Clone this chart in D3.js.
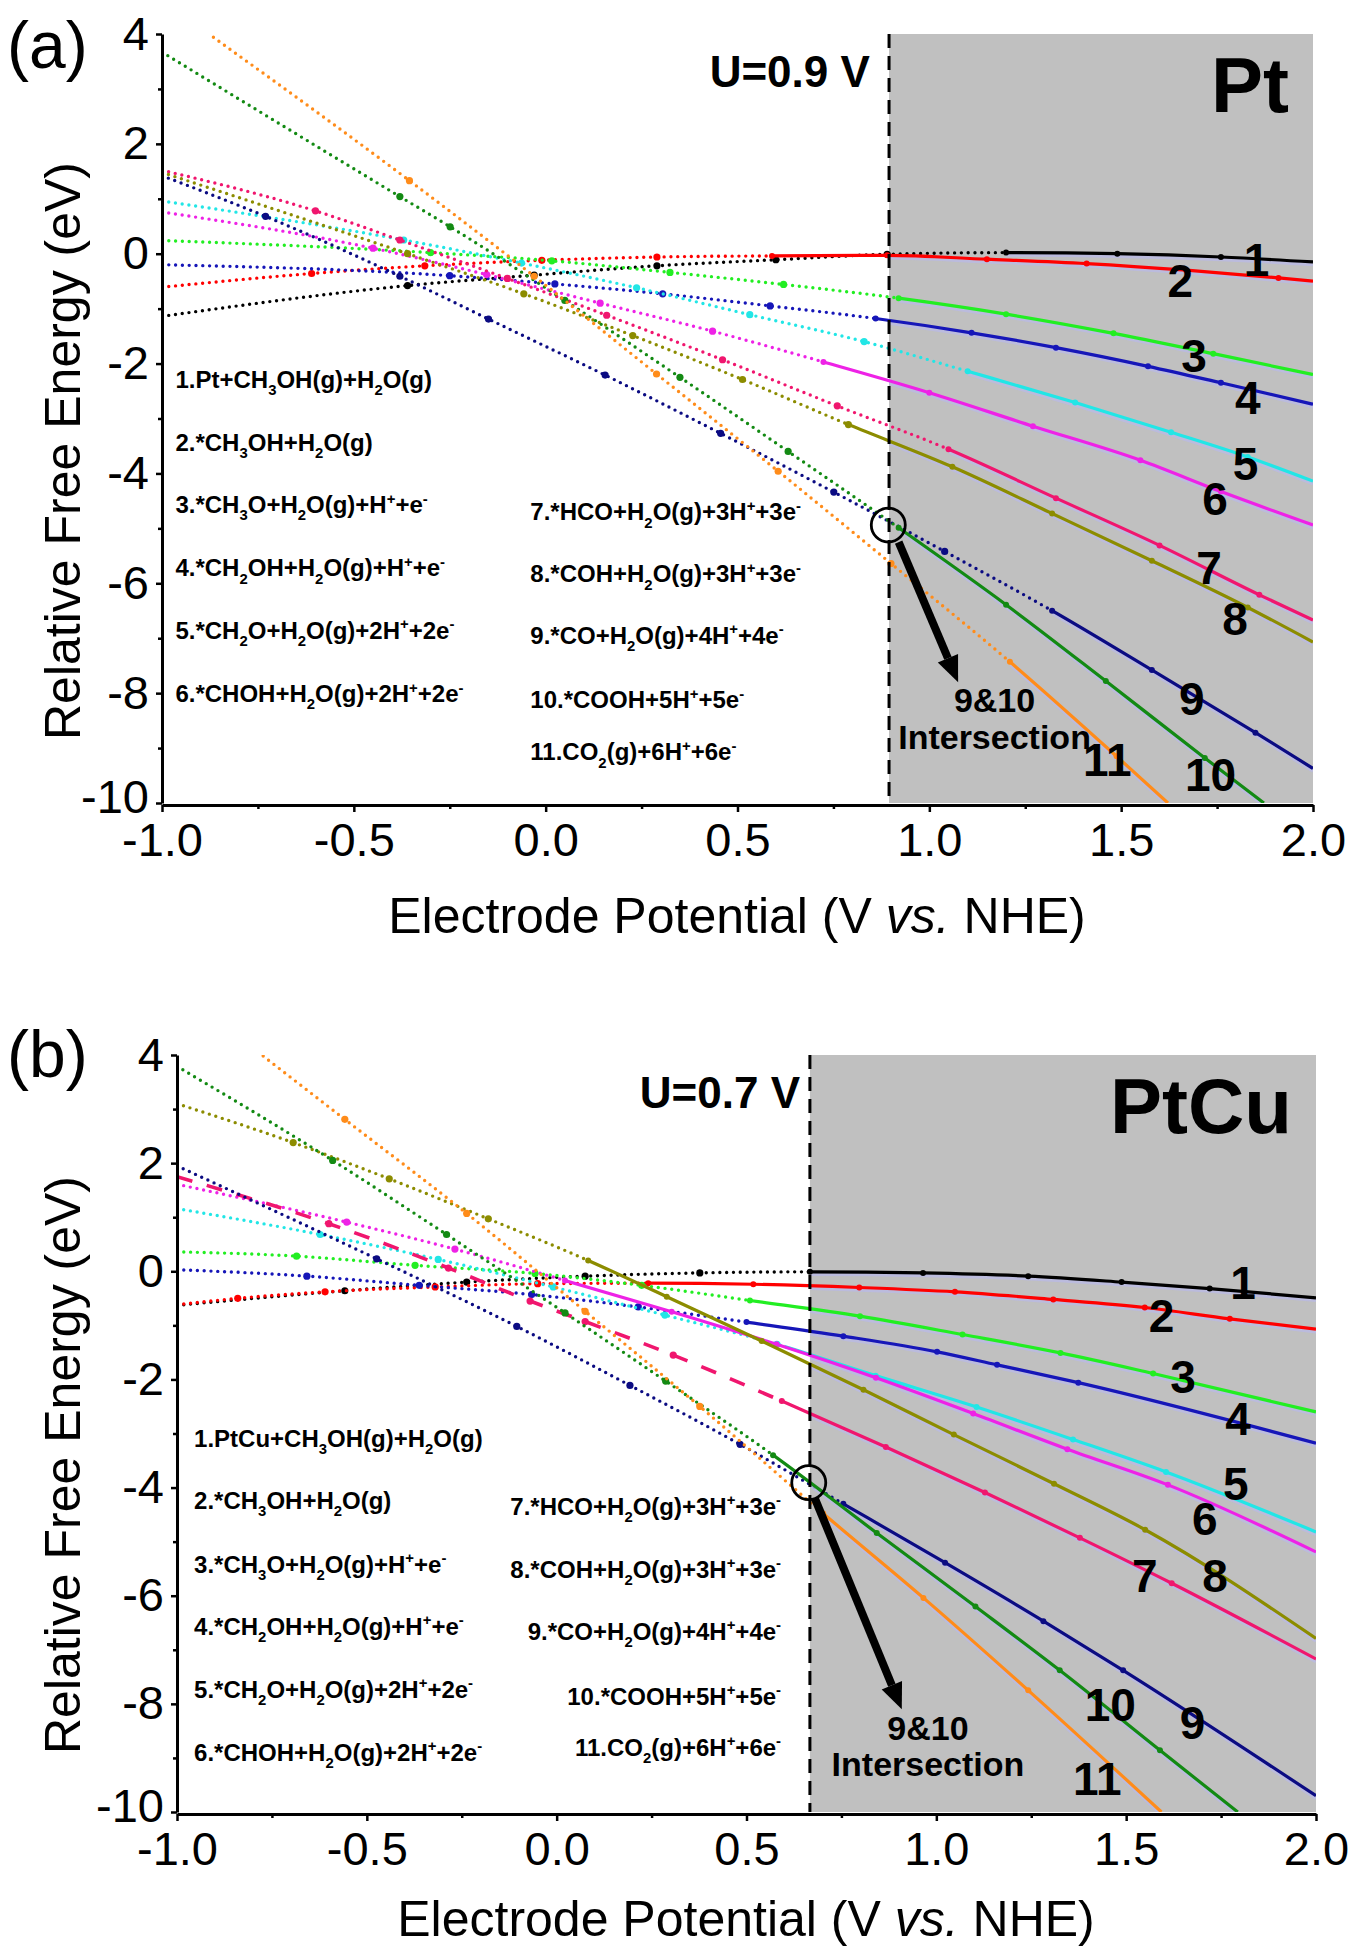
<!DOCTYPE html>
<html>
<head>
<meta charset="utf-8">
<script src="https://cdn.jsdelivr.net/npm/d3@7"></script>
<style>
  body { margin: 0; background: #fff; }
  svg text { font-family: "Liberation Sans", Arial, Helvetica, sans-serif; fill: #000; }
</style>
</head>
<body>
<svg id="fig" width="1360" height="1958"></svg>
<script>
// ---------- data ----------
var colors = ['#000000', '#ff0000', '#22ee22', '#1616b8', '#22e6e6', '#ee22e6',
              '#f0166e', '#8c8c00', '#0b0b82', '#138a13', '#ff8c1a'];

// panel (a) Pt : [U, dG]
var ptA1 = [[-1,-1.14],[-0.36,-0.58],[-0.03,-0.39],[0.29,-0.22],[0.6,-0.11],[0.89,-0.01],[1.2,0.02],[1.49,0],[1.76,-0.06],[2,-0.15]];
var ptA2 = [[-1,-0.61],[-0.61,-0.36],[-0.315,-0.22],[-0.01,-0.12],[0.29,-0.06],[0.59,-0.04],[0.89,-0.03],[1.15,-0.1],[1.41,-0.18],[1.67,-0.3],[1.91,-0.44],[2,-0.5]];
var ptA3 = [[-1,0.24],[-0.3,0.02],[0.016,-0.13],[0.324,-0.34],[0.62,-0.56],[0.92,-0.81],[1.2,-1.1],[1.48,-1.45],[1.74,-1.82],[2,-2.2]];
var ptA4 = [[-1,-0.2],[-0.25,-0.4],[0.024,-0.55],[0.305,-0.73],[0.585,-0.95],[0.86,-1.18],[1.11,-1.44],[1.33,-1.71],[1.57,-2.05],[1.76,-2.35],[2,-2.74]];
var ptA5 = [[-1,0.96],[-0.37,0.25],[-0.063,-0.17],[0.237,-0.62],[0.532,-1.11],[0.83,-1.6],[1.1,-2.14],[1.38,-2.71],[1.63,-3.25],[1.83,-3.7],[2,-4.14]];
var ptA6 = [[-1,0.76],[-0.45,0.1],[-0.154,-0.38],[0.142,-0.9],[0.435,-1.41],[0.724,-1.97],[1.0,-2.53],[1.27,-3.14],[1.55,-3.76],[1.76,-4.33],[2,-4.94]];
var ptA7 = [[-1,1.52],[-0.6,0.78],[-0.38,0.25],[-0.1,-0.45],[0.159,-1.12],[0.461,-1.93],[0.76,-2.77],[1.05,-3.56],[1.33,-4.45],[1.6,-5.31],[1.86,-6.21],[2,-6.67]];
var ptA8 = [[-1,1.48],[-0.36,0.0],[-0.057,-0.73],[0.227,-1.49],[0.513,-2.29],[0.789,-3.11],[1.06,-3.88],[1.32,-4.73],[1.58,-5.59],[1.83,-6.44],[2,-7.07]];
var ptA9 = [[-1,1.42],[-0.73,0.68],[-0.38,-0.41],[-0.149,-1.19],[0.155,-2.21],[0.456,-3.27],[0.751,-4.34],[1.04,-5.42],[1.32,-6.5],[1.58,-7.58],[1.85,-8.72],[2,-9.37]];
var ptA10 = [[-1,3.67],[-0.38,1.04],[-0.249,0.49],[0.05,-0.85],[0.35,-2.25],[0.632,-3.6],[0.92,-4.99],[1.2,-6.39],[1.46,-7.78],[1.718,-9.18],[1.872,-10]];
var ptA11 = [[-0.866,3.94],[-0.355,1.33],[-0.03,-0.41],[0.289,-2.19],[0.606,-3.96],[0.9,-5.64],[1.21,-7.43],[1.488,-9.15],[1.622,-10]];

// panel (b) PtCu : [U, dG]
var ptB1 = [[-1,-0.63],[-0.558,-0.36],[-0.237,-0.2],[0.075,-0.09],[0.377,-0.03],[0.667,-0.01],[0.965,-0.03],[1.242,-0.09],[1.488,-0.2],[1.72,-0.32],[2,-0.49]];
var ptB2 = [[-1,-0.62],[-0.84,-0.5],[-0.61,-0.38],[-0.32,-0.29],[-0.05,-0.23],[0.241,-0.22],[0.518,-0.24],[0.797,-0.3],[1.049,-0.38],[1.308,-0.52],[1.549,-0.67],[1.773,-0.88],[2,-1.07]];
var ptB3 = [[-1,0.36],[-0.685,0.28],[-0.373,0.11],[-0.057,-0.04],[0.224,-0.26],[0.509,-0.54],[0.799,-0.83],[1.069,-1.17],[1.327,-1.51],[1.571,-1.89],[2,-2.6]];
var ptB4 = [[-1,0.03],[-0.658,-0.09],[-0.362,-0.26],[-0.066,-0.43],[0.215,-0.66],[0.5,-0.94],[0.755,-1.2],[1.002,-1.49],[1.16,-1.73],[1.374,-2.06],[2,-3.18]];
var ptB5 = [[-1,1.16],[-0.623,0.68],[-0.312,0.22],[-0.009,-0.29],[0.285,-0.81],[0.58,-1.35],[0.84,-1.93],[1.106,-2.51],[1.36,-3.11],[1.605,-3.71],[2,-4.82]];
var ptB6 = [[-1,1.61],[-0.553,0.91],[-0.268,0.41],[0.022,-0.17],[0.303,-0.75],[0.579,-1.35],[0.841,-1.97],[1.097,-2.63],[1.345,-3.29],[1.61,-3.95],[2,-5.19]];
var ptB7 = [[-1,1.75],[-0.6,0.88],[-0.285,0.06],[-0.07,-0.55],[0.075,-0.93],[0.307,-1.55],[0.593,-2.4],[0.867,-3.25],[1.128,-4.09],[1.378,-4.93],[1.62,-5.77],[2,-7.17]];
var ptB8 = [[-1,3.1],[-0.694,2.38],[-0.441,1.71],[-0.18,0.97],[0.083,0.2],[0.29,-0.47],[0.54,-1.29],[0.808,-2.19],[1.046,-3.02],[1.31,-3.93],[1.55,-4.78],[2,-6.79]];
var ptB9 = [[-1,1.95],[-0.474,0.23],[-0.105,-1.02],[0.193,-2.11],[0.483,-3.2],[0.755,-4.3],[1.023,-5.39],[1.282,-6.47],[1.492,-7.38],[2,-9.7]];
var ptB10 = [[-1,3.79],[-0.59,2.05],[-0.29,0.68],[0.022,-0.77],[0.287,-2.03],[0.57,-3.4],[0.843,-4.84],[1.103,-6.2],[1.325,-7.38],[1.589,-8.86],[1.794,-10]];
var ptB11 = [[-0.773,3.98],[-0.558,2.81],[-0.237,1.07],[0.075,-0.74],[0.377,-2.5],[0.702,-4.48],[0.966,-6.04],[1.242,-7.75],[1.593,-10]];

// potential where each curve turns from dotted to solid
var solidFromA = [1.2, 0.59, 0.92, 0.86, 1.1, 0.72, 1.05, 0.79, 1.32, 0.92, 1.21];
var solidFromB = [0.667, 0.241, 0.509, 0.5, 0.6, 0.022, 0.593, 0.083, 0.755, 0.57, 0.69];

var namesA = ['1.Pt+CH_3OH(g)+H_2O(g)', '2.*CH_3OH+H_2O(g)', '3.*CH_3O+H_2O(g)+H^++e^-',
  '4.*CH_2OH+H_2O(g)+H^++e^-', '5.*CH_2O+H_2O(g)+2H^++2e^-', '6.*CHOH+H_2O(g)+2H^++2e^-',
  '7.*HCO+H_2O(g)+3H^++3e^-', '8.*COH+H_2O(g)+3H^++3e^-', '9.*CO+H_2O(g)+4H^++4e^-',
  '10.*COOH+5H^++5e^-', '11.CO_2(g)+6H^++6e^-'];
var namesB = ['1.PtCu+CH_3OH(g)+H_2O(g)'].concat(namesA.slice(1));

var uLineA = 0.895, uLineB = 0.667;
var crossA = [0.893, -4.94], crossB = [0.664, -3.91];

var xTicks = [-1, -0.5, 0, 0.5, 1, 1.5, 2];
var xMinor = [-0.75, -0.25, 0.25, 0.75, 1.25, 1.75];
var yTicks = [-10, -8, -6, -4, -2, 0, 2, 4];
var yMinor = [-9, -7, -5, -3, -1, 1, 3];

// ---------- annotation placement (data units) ----------
var numPosA = [[1.853,-0.11],[1.654,-0.48],[1.69,-1.85],[1.83,-2.62],[1.824,-3.82],[1.745,-4.45],[1.729,-5.72],[1.797,-6.65],[1.684,-8.1],[1.733,-9.49],[1.464,-9.21]];
var numPosB = [[1.808,-0.2],[1.593,-0.81],[1.65,-1.94],[1.795,-2.72],[1.789,-3.93],[1.707,-4.58],[1.549,-5.62],[1.734,-5.62],[1.675,-8.34],[1.458,-8.01],[1.424,-9.38]];
var listYA = [-2.29, -3.44, -4.57, -5.72, -6.86, -8.01, -4.7, -5.83, -6.95, -8.12, -9.07];
var listYB = [-3.09, -4.24, -5.42, -6.57, -7.73, -8.9, -4.35, -5.51, -6.66, -7.86, -8.8];

var svg = d3.select('#fig');
var defs = svg.append('defs');

var panels = [
  { id: 'a', tag: '(a)', left: 162, right: 1313, top: 34, bottom: 803,
    pts: [ptA1, ptA2, ptA3, ptA4, ptA5, ptA6, ptA7, ptA8, ptA9, ptA10, ptA11],
    solidFrom: solidFromA, names: namesA, numPos: numPosA, listY: listYA,
    listX: [-0.965, -0.04], rightAnchor: 'start', uLine: uLineA, uText: 'U=0.9 V', uTextX: 0.845,
    metal: 'Pt', cross: crossA, arrowFrom: [0.92, -5.25], arrowTo: [1.075, -7.8],
    interX: 1.17, interY: [-8.12, -8.8], dashed7: false, tagBase: 68, titleBase: 933, titleX: 737, yTitleY: 451 },
  { id: 'b', tag: '(b)', left: 177, right: 1316, top: 1055, bottom: 1812,
    pts: [ptB1, ptB2, ptB3, ptB4, ptB5, ptB6, ptB7, ptB8, ptB9, ptB10, ptB11],
    solidFrom: solidFromB, names: namesB, numPos: numPosB, listY: listYB,
    listX: [-0.955, 0.591], rightAnchor: 'end', uLine: uLineB, uText: 'U=0.7 V', uTextX: 0.641,
    metal: 'PtCu', cross: crossB, arrowFrom: [0.68, -4.2], arrowTo: [0.909, -8.1],
    interX: 0.978, interY: [-8.45, -9.12], dashed7: true, tagBase: 1077, titleBase: 1936, titleX: 746, yTitleY: 1465 }
];

// text with _x subscripts and ^x superscripts
function richText(sel, str, size) {
  var parts = str.match(/_.|\^.|[^_^]+/g);
  var shift = 0;
  parts.forEach(function(p) {
    var target = 0, fs = size, txt = p;
    if (p[0] === '_') { target = size * 0.3; fs = size * 0.62; txt = p[1]; }
    else if (p[0] === '^') { target = -size * 0.4; fs = size * 0.62; txt = p[1]; }
    sel.append('tspan').attr('dy', target - shift).attr('font-size', fs).text(txt);
    shift = target;
  });
}

panels.forEach(function(P) {
  var x = d3.scaleLinear().domain([-1, 2]).range([P.left, P.right]);
  var y = d3.scaleLinear().domain([-10, 4]).range([P.bottom, P.top]);
  var g = svg.append('g');

  // plot-area clip and grey-region clip
  defs.append('clipPath').attr('id', 'plot-' + P.id)
    .append('rect').attr('x', P.left).attr('y', P.top)
    .attr('width', P.right - P.left).attr('height', P.bottom - P.top);
  defs.append('clipPath').attr('id', 'grey-' + P.id)
    .append('rect').attr('x', x(P.uLine)).attr('y', P.top)
    .attr('width', P.right - x(P.uLine)).attr('height', P.bottom - P.top);

  // grey region beyond the limiting potential
  g.append('rect')
    .attr('x', x(P.uLine)).attr('y', y(4))
    .attr('width', x(2) - x(P.uLine)).attr('height', y(-10) - y(4))
    .attr('fill', '#c0c0c0');

  var line = d3.line()
    .x(function(d) { return x(d[0]); })
    .y(function(d) { return y(d[1]); })
    .curve(d3.curveMonotoneX);

  var curves = g.append('g').attr('clip-path', 'url(#plot-' + P.id + ')');

  P.pts.forEach(function(pts, i) {
    var xs = x(P.solidFrom[i]);
    var cidD = 'dot-' + P.id + i, cidS = 'sol-' + P.id + i;
    defs.append('clipPath').attr('id', cidD).append('rect')
      .attr('x', P.left - 5).attr('y', 0).attr('width', xs - P.left + 5).attr('height', 1958);
    defs.append('clipPath').attr('id', cidS).append('rect')
      .attr('x', xs).attr('y', 0).attr('width', P.right - xs + 5).attr('height', 1958);

    var dotted = curves.append('g').attr('clip-path', 'url(#' + cidD + ')')
      .append('path').attr('d', line(pts))
      .attr('fill', 'none').attr('stroke', colors[i]);
    if (P.dashed7 && i === 6) {
      dotted.attr('stroke-width', 3.6).attr('stroke-dasharray', '16 15');
    } else {
      dotted.attr('stroke-width', 3.4).attr('stroke-dasharray', '0 6.8').attr('stroke-linecap', 'round');
    }

    var solid = curves.append('g').attr('clip-path', 'url(#' + cidS + ')');
    // faint lavender fringe seen under the solid traces inside the grey region
    solid.append('g').attr('clip-path', 'url(#grey-' + P.id + ')')
      .append('path').attr('d', line(pts))
      .attr('transform', 'translate(0,2.5)')
      .attr('fill', 'none').attr('stroke', '#b9b9e4').attr('stroke-width', 3.5).attr('opacity', 0.8);
    solid.append('path').attr('d', line(pts))
      .attr('fill', 'none').attr('stroke', colors[i]).attr('stroke-width', 3.2);

    curves.selectAll('circle.m' + i)
      .data(pts.slice(1, -1))
      .enter().append('circle')
      .attr('cx', function(d) { return x(d[0]); })
      .attr('cy', function(d) { return y(d[1]); })
      .attr('r', function(d) { return d[0] < P.solidFrom[i] ? 3.6 : 3; })
      .attr('fill', colors[i]);
  });

  // limiting potential
  g.append('line')
    .attr('x1', x(P.uLine)).attr('x2', x(P.uLine))
    .attr('y1', y(4)).attr('y2', y(-10))
    .attr('stroke', '#000').attr('stroke-width', 3).attr('stroke-dasharray', '14 8');

  // axes
  var xAxis = g.append('g').attr('transform', 'translate(0,' + (P.bottom + 2) + ')')
    .call(d3.axisBottom(x).tickValues(xTicks).tickSize(7).tickSizeOuter(0).tickPadding(11)
      .tickFormat(function(d) { return d.toFixed(1); }));
  g.append('g').attr('transform', 'translate(0,' + (P.bottom + 2) + ')')
    .call(d3.axisBottom(x).tickValues(xMinor).tickSize(4).tickSizeOuter(0).tickFormat(''))
    .select('.domain').remove();
  var yAxis = g.append('g').attr('transform', 'translate(' + P.left + ',0)')
    .call(d3.axisLeft(y).tickValues(yTicks).tickSize(6).tickSizeOuter(0).tickPadding(7)
      .tickFormat(function(d) { return String(d); }));
  g.append('g').attr('transform', 'translate(' + P.left + ',0)')
    .call(d3.axisLeft(y).tickValues(yMinor).tickSize(4).tickSizeOuter(0).tickFormat(''))
    .select('.domain').remove();
  g.selectAll('.domain').attr('stroke-width', 3);
  g.selectAll('.tick line').attr('stroke-width', 2.5);
  xAxis.selectAll('text').attr('font-size', 47).attr('font-family', null);
  yAxis.selectAll('text').attr('font-size', 47).attr('font-family', null);
  // lift the lowest y label a touch so it clears the first x label
  yAxis.selectAll('.tick').filter(function(d) { return d === -10; })
    .select('text').attr('dy', '0.2em');

  // axis titles
  var xt = g.append('text').attr('x', P.titleX).attr('y', P.titleBase)
    .attr('text-anchor', 'middle').attr('font-size', 50);
  xt.append('tspan').text('Electrode Potential (V ');
  xt.append('tspan').attr('font-style', 'italic').text('vs.');
  xt.append('tspan').text(' NHE)');
  g.append('text').attr('transform', 'translate(80,' + P.yTitleY + ') rotate(-90)')
    .attr('text-anchor', 'middle').attr('font-size', 50).text('Relative Free Energy (eV)');

  // panel tag, potential and metal labels
  g.append('text').attr('x', 7).attr('y', P.tagBase).attr('font-size', 66).text(P.tag);
  g.append('text').attr('x', x(P.uTextX)).attr('y', P.top + 53).attr('text-anchor', 'end')
    .attr('font-size', 44).attr('font-weight', 'bold').text(P.uText);
  g.append('text').attr('x', P.right - 24).attr('y', P.top + 78).attr('text-anchor', 'end')
    .attr('font-size', 78).attr('font-weight', 'bold').text(P.metal);

  // species list
  P.names.forEach(function(name, i) {
    var right = i >= 6;
    var t = g.append('text')
      .attr('x', x(right ? P.listX[1] : P.listX[0]))
      .attr('y', y(P.listY[i]) + 8.5)
      .attr('text-anchor', right ? P.rightAnchor : 'start')
      .attr('font-size', 24).attr('font-weight', 'bold');
    richText(t, name, 24);
  });

  // curve numbers
  P.numPos.forEach(function(p, i) {
    g.append('text').attr('x', x(p[0])).attr('y', y(p[1]) + 16.5)
      .attr('text-anchor', 'middle').attr('font-size', 46).attr('font-weight', 'bold')
      .text(String(i + 1));
  });

  // intersection marker and arrow
  g.append('circle').attr('cx', x(P.cross[0])).attr('cy', y(P.cross[1])).attr('r', 17)
    .attr('fill', 'none').attr('stroke', '#000').attr('stroke-width', 2.8);
  var x0 = x(P.arrowFrom[0]), y0 = y(P.arrowFrom[1]);
  var x1 = x(P.arrowTo[0]), y1 = y(P.arrowTo[1]);
  var ang = Math.atan2(y1 - y0, x1 - x0), head = 26, hw = 11;
  var bx = x1 - head * Math.cos(ang), by = y1 - head * Math.sin(ang);
  g.append('line').attr('x1', x0).attr('y1', y0).attr('x2', bx).attr('y2', by)
    .attr('stroke', '#000').attr('stroke-width', 8);
  g.append('path')
    .attr('d', 'M' + x1 + ',' + y1 +
      'L' + (bx + hw * Math.sin(ang)) + ',' + (by - hw * Math.cos(ang)) +
      'L' + (bx - hw * Math.sin(ang)) + ',' + (by + hw * Math.cos(ang)) + 'Z')
    .attr('fill', '#000');
  g.append('text').attr('x', x(P.interX)).attr('y', y(P.interY[0]) + 12)
    .attr('text-anchor', 'middle').attr('font-size', 34).attr('font-weight', 'bold').text('9&10');
  g.append('text').attr('x', x(P.interX)).attr('y', y(P.interY[1]) + 12)
    .attr('text-anchor', 'middle').attr('font-size', 34).attr('font-weight', 'bold').text('Intersection');
});
</script>
</body>
</html>
